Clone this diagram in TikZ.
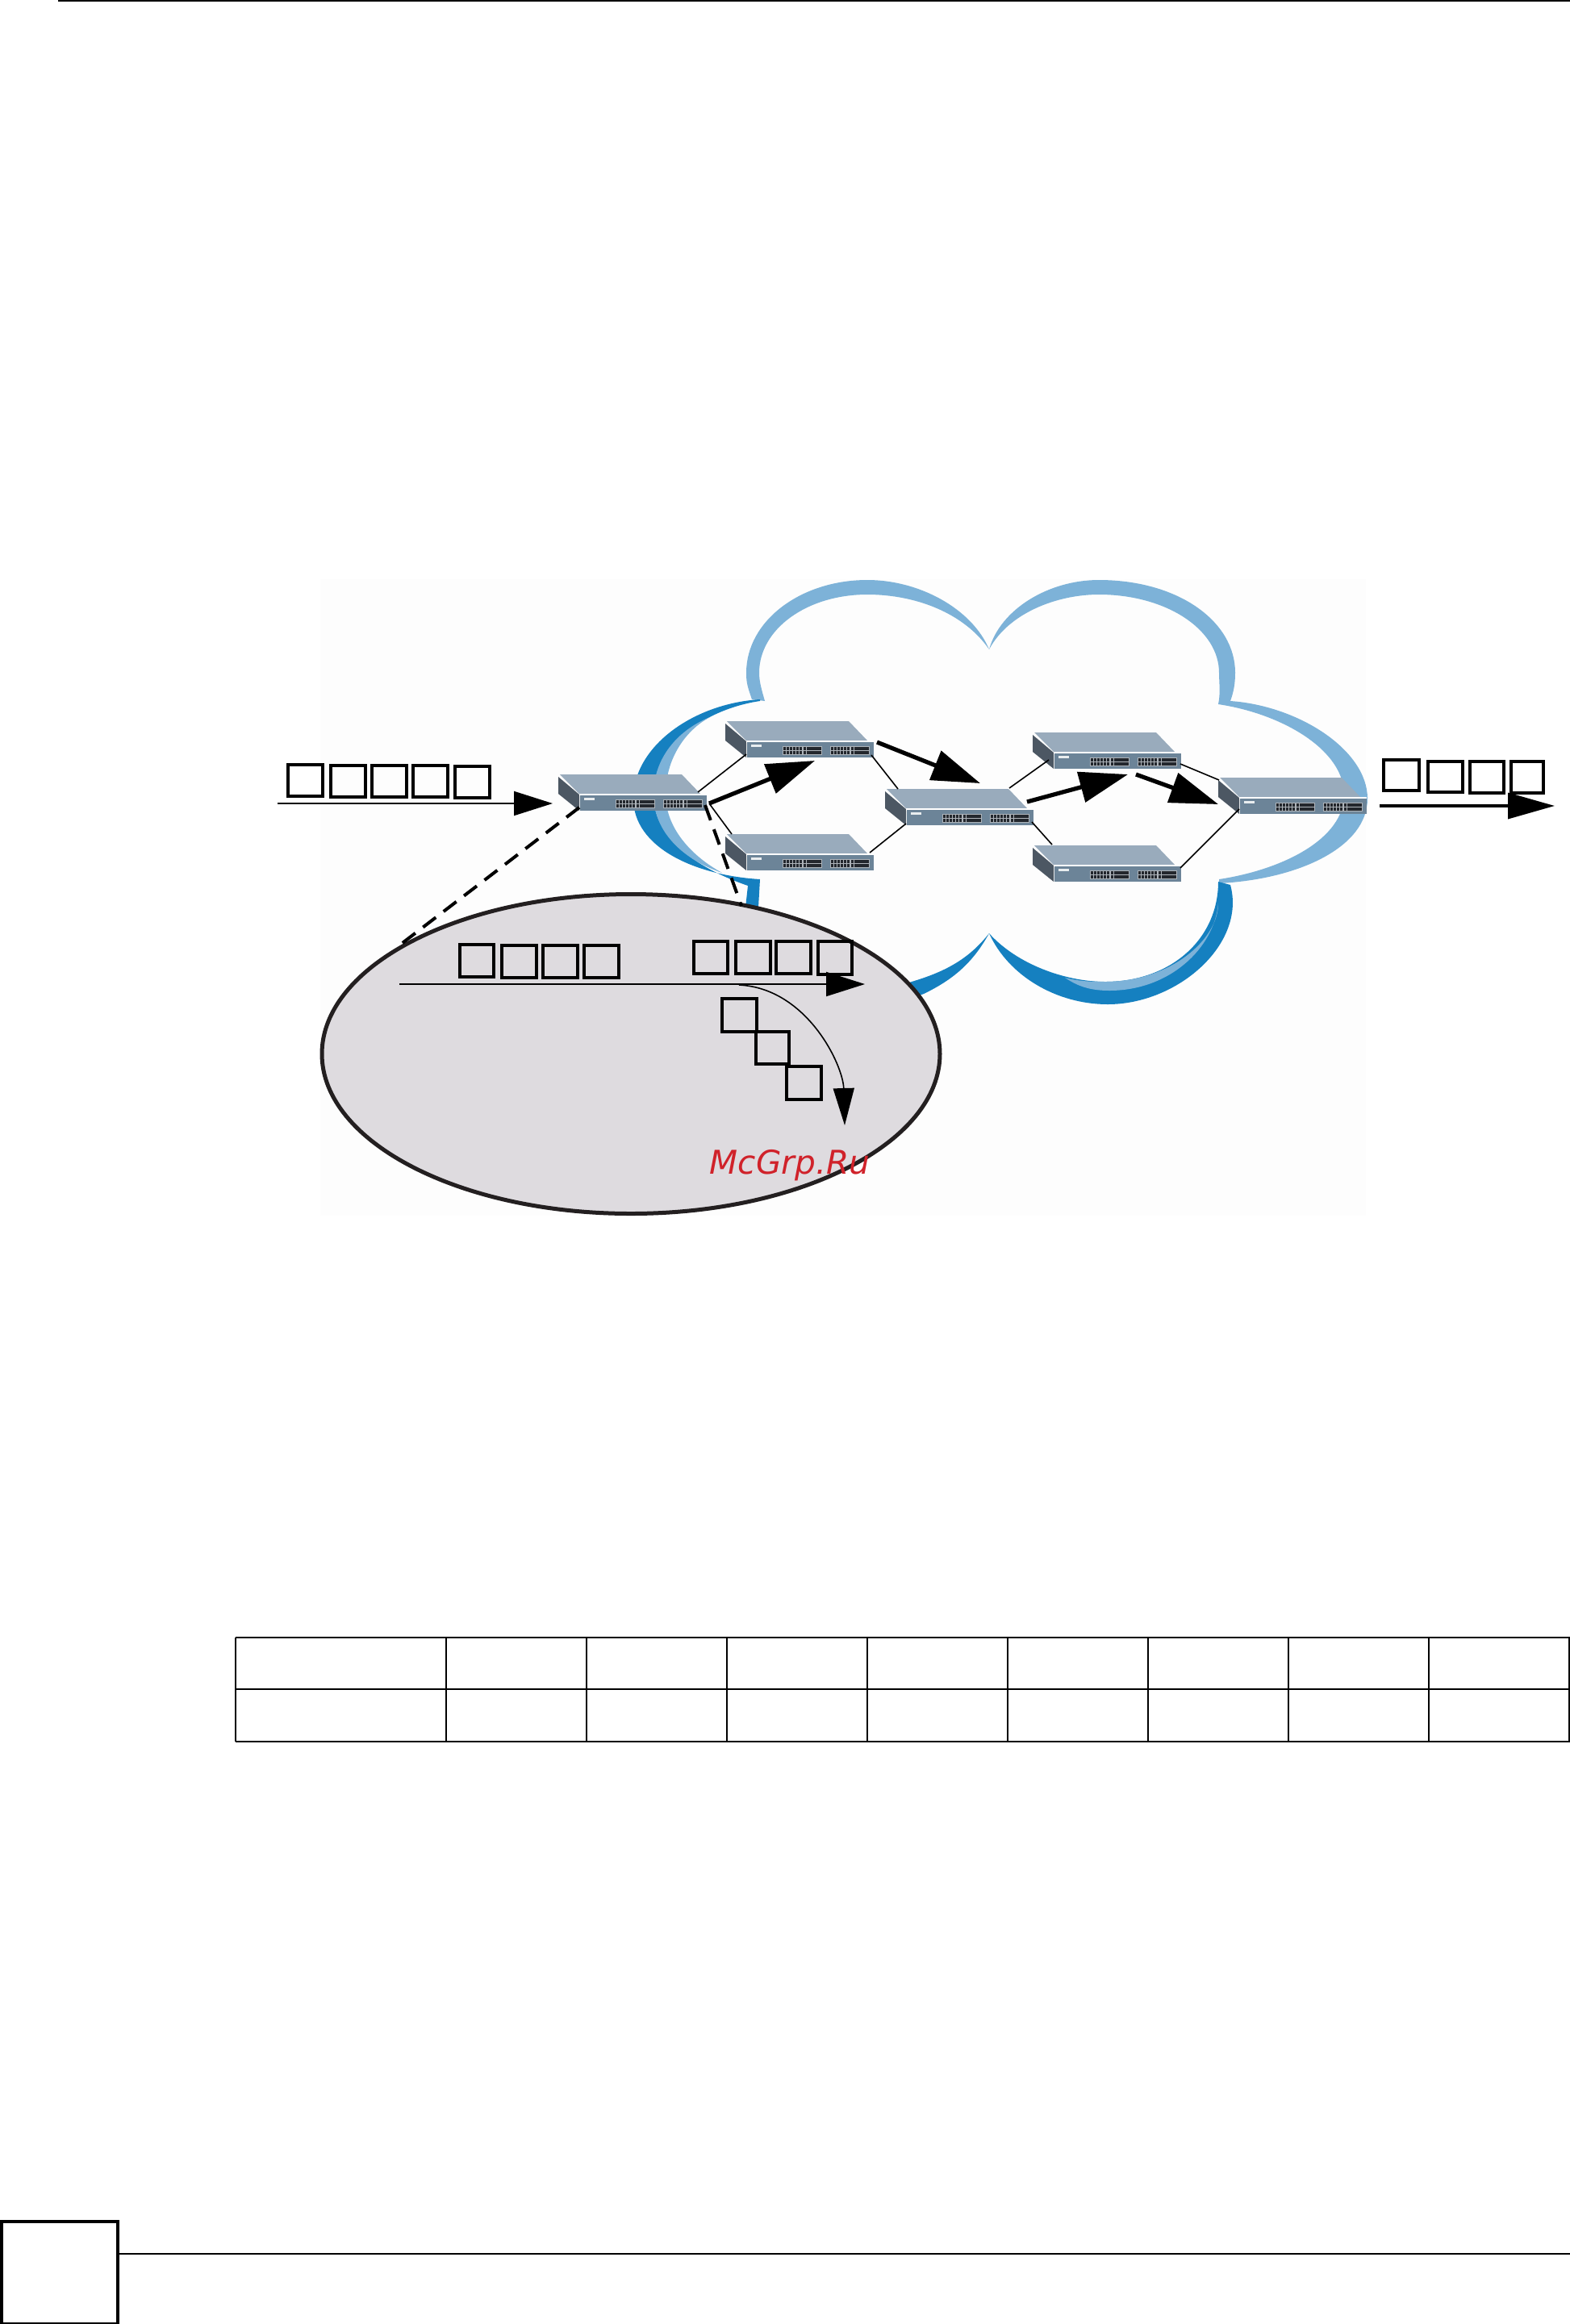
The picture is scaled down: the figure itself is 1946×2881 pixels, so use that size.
\documentclass[tikz,border=0pt]{standalone}
\usepackage{fontspec}
\newfontfamily\wmfont{DejaVu Sans}
\usetikzlibrary{arrows.meta}
\definecolor{cloudL}{HTML}{7DB2D8}
\definecolor{cloudD}{HTML}{1580C0}
\definecolor{swTop}{HTML}{99ABBC}
\definecolor{swSide}{HTML}{4C5763}
\definecolor{swFront}{HTML}{6C8498}
\definecolor{swPort}{HTML}{AEB4BA}
\definecolor{swDot}{HTML}{23272D}
\definecolor{ovalFill}{HTML}{DEDBDF}
\definecolor{ovalEdge}{HTML}{231F20}
\definecolor{wmRed}{HTML}{D0222A}
\definecolor{photoBg}{HTML}{FDFDFD}
\tikzset{
  link/.style={line width=0.8pt,black},
  thick arrow/.style={line width=2.6pt,-{Triangle[length=30pt,width=19pt]}},
  thin arrow/.style={line width=1pt,-{Triangle[length=24pt,width=15pt]}},
  dash link/.style={line width=2pt,dash pattern=on 10pt off 6pt},
  tofu/.style={draw=black,line width=2.2pt,fill=none},
  swbox/.style={minimum width=92pt,minimum height=22.5pt,inner sep=0pt,draw=none,fill=none},
  rule/.style={line width=1pt,black},
  rule thin/.style={line width=0.7pt,black}
}
\newcommand{\netswitch}[3]{%
  \begin{scope}[shift={(#2,#3)}]
    \fill[swTop] (2,0) -- (153,0) -- (176,24) -- (26,24) -- cycle;
    \fill[swSide] (0,3) -- (26,25) -- (26,45) -- (0,24) -- cycle;
    \fill[white] (26,24) rectangle (184,27);
    \fill[swFront] (27,26) rectangle (184,45);
    \fill[white!85!swFront] (32,29) rectangle (45,32);
    \foreach \bx in {71,130}{
      \fill[swPort] (\bx,31) rectangle ++(49,11);
      \foreach \c in {0,...,11}{
        \pgfmathsetmacro{\gx}{\bx+1+\c*3.9+(\c>5?1.2:0)}
        \fill[swDot] (\gx,32) rectangle ++(3.3,3.8);
        \fill[swDot] (\gx,36.8) rectangle ++(3.3,3.8);
      }
    }
    \node[swbox] (#1) at (92,22.5) {};
  \end{scope}%
}
\newcommand{\tofubox}[4]{\draw[tofu] (#1,#2) rectangle (#3,#4);}
\begin{document}
\begin{tikzpicture}[x=0.5pt,y=-0.5pt]
\useasboundingbox (0,0) rectangle (1946,2881);
\fill[white] (0,0) rectangle (1946,2881);
\fill[photoBg] (397,718) rectangle (1693,1507);

% page furniture
\fill[black] (72,0) rectangle (1946,2);
\draw[line width=2pt] (2,2754) rectangle (146,2881);
\draw[rule] (147,2794) -- (1946,2794);

% cloud, light lobes
\fill[cloudL] (932,867) .. controls (926,850) and (925,845) .. (925,834)
  .. controls (925,770) and (992,719) .. (1075,719)
  .. controls (1140,719) and (1205,755) .. (1226,805)
  .. controls (1195,760) and (1135,737) .. (1075,737)
  .. controls (1000,737) and (941,780) .. (941,834)
  .. controls (941,845) and (944,855) .. (948,869) -- cycle;
\fill[cloudL] (1226,805) .. controls (1240,755) and (1300,719) .. (1362,719)
  .. controls (1460,719) and (1531,770) .. (1531,834)
  .. controls (1531,848) and (1529,858) .. (1525,869)
  .. controls (1610,875) and (1695,930) .. (1695,990)
  .. controls (1695,1050) and (1610,1090) .. (1511,1095)
  -- (1511,1090)
  .. controls (1590,1078) and (1666,1040) .. (1666,985)
  .. controls (1666,930) and (1590,885) .. (1510,873)
  .. controls (1513,860) and (1511,845) .. (1511,834)
  .. controls (1511,780) and (1445,737) .. (1362,737)
  .. controls (1310,737) and (1250,760) .. (1226,805) -- cycle;
% cloud, dark lobes
\fill[cloudD] (1510,1093) -- (1525,1097)
  .. controls (1545,1170) and (1460,1245) .. (1373,1245)
  .. controls (1310,1245) and (1250,1210) .. (1226,1157)
  .. controls (1260,1195) and (1320,1217) .. (1370,1217)
  .. controls (1450,1217) and (1510,1165) .. (1510,1093) -- cycle;
\fill[cloudL] (1510,1120) .. controls (1505,1175) and (1450,1228) .. (1375,1228)
  .. controls (1350,1228) and (1335,1222) .. (1320,1212)
  .. controls (1340,1217) and (1355,1217) .. (1370,1217)
  .. controls (1450,1217) and (1510,1165) .. (1510,1120) -- cycle;
\fill[cloudD] (1226,1157) .. controls (1205,1195) and (1180,1215) .. (1145,1232)
  -- (1110,1245) -- (1100,1228) -- (1130,1217)
  .. controls (1170,1205) and (1200,1190) .. (1226,1157) -- cycle;
\fill[cloudD] (942,867) .. controls (860,872) and (785,925) .. (785,990)
  .. controls (785,1050) and (860,1085) .. (942,1090)
  -- (940,1125) -- (924,1125) -- (927,1098)
  .. controls (875,1080) and (810,1045) .. (810,985)
  .. controls (810,920) and (880,878) .. (942,869) -- cycle;
\fill[cloudL] (880,889) .. controls (840,905) and (810,940) .. (810,985)
  .. controls (810,1030) and (845,1065) .. (895,1082)
  .. controls (855,1060) and (825,1025) .. (825,985)
  .. controls (825,940) and (850,905) .. (880,889) -- cycle;

% switches
\netswitch{S1}{692}{960}
\netswitch{S2}{899}{894}
\netswitch{S3}{899}{1034}
\netswitch{S4}{1097}{978}
\netswitch{S5}{1280}{908}
\netswitch{S6}{1280}{1048}
\netswitch{S7}{1510}{964}

% connector ends
\coordinate (S1a) at (865,982);
\coordinate (S1b) at (879,996);
\coordinate (S2l) at (925,935);
\coordinate (S2b) at (1080,936);
\coordinate (S3t) at (907,1034);
\coordinate (S3r) at (1078,1057);
\coordinate (S4t) at (1113,978);
\coordinate (S4l) at (1123,1021);
\coordinate (S4a) at (1251,977);
\coordinate (S4b) at (1279,1019);
\coordinate (S5l) at (1300,942);
\coordinate (S5b) at (1463,947);
\coordinate (S6t) at (1304,1047);
\coordinate (S6r) at (1463,1076);
\coordinate (S7t) at (1511,967);
\coordinate (S7l) at (1536,1003);

\draw[link] (S1a) -- (S2l);
\draw[link] (S1b) -- (S3t);
\draw[link] (S2b) -- (S4t);
\draw[link] (S3r) -- (S4l);
\draw[link] (S4a) -- (S5l);
\draw[link] (S4b) -- (S6t);
\draw[link] (S5b) -- (S7t);
\draw[link] (S6r) -- (S7l);

% thick flow arrows
\coordinate (F1s) at (879,996);   \coordinate (F1e) at (1010,943);
\coordinate (F2s) at (1087,920);  \coordinate (F2e) at (1215,971);
\coordinate (F3s) at (1273,994);  \coordinate (F3e) at (1398,960);
\coordinate (F4s) at (1408,960);  \coordinate (F4e) at (1510,997);
\draw[thick arrow] (F1s) -- (F1e);
\draw[thick arrow] (F2s) -- (F2e);
\draw[thick arrow] (F3s) -- (F3e);
\draw[thick arrow] (F4s) -- (F4e);

% incoming and outgoing
\coordinate (In0) at (344,996); \coordinate (In1) at (685,996);
\draw[thin arrow] (In0) -- (In1);
\coordinate (Out0) at (1710,999); \coordinate (Out1) at (1927,999);
\draw[line width=1.8pt,-{Triangle[length=29pt,width=16pt]}] (Out0) -- (Out1);

\tofubox{357}{948}{400}{987}
\tofubox{410}{949}{453}{988}
\tofubox{461}{949}{504}{988}
\tofubox{512}{949}{555}{988}
\tofubox{564}{950}{607}{989}

\tofubox{1715}{942}{1759}{980}
\tofubox{1770}{944}{1813}{982}
\tofubox{1822}{944}{1864}{983}
\tofubox{1873}{944}{1913}{983}

% zoom ellipse
\draw[fill=ovalFill,draw=ovalEdge,line width=2.5pt] (782,1306.5) ellipse [x radius=383,y radius=198];

% dashed lead lines
\coordinate (D1a) at (718,1001); \coordinate (D1b) at (491,1175);
\coordinate (D2a) at (874,998);  \coordinate (D2b) at (919,1123);
\draw[dash link] (D1a) -- (D1b);
\draw[dash link] (D2a) -- (D2b);

% ellipse contents
\coordinate (E0) at (495,1220); \coordinate (E1) at (1072,1220);
\draw[thin arrow] (E0) -- (E1);
\coordinate (C0) at (916,1221); \coordinate (C1) at (1047,1395);
\draw[line width=0.8pt,-{Triangle[length=23pt,width=13pt]}] (C0) .. controls (1000,1225) and (1045,1320) .. (C1);

\tofubox{570}{1171}{612}{1211}
\tofubox{622}{1172}{665}{1212}
\tofubox{673}{1172}{716}{1212}
\tofubox{724}{1172}{767}{1212}

\tofubox{860}{1167}{902}{1207}
\tofubox{912}{1167}{955}{1207}
\tofubox{962}{1167}{1005}{1207}
\tofubox{1014}{1167}{1056}{1208}

\tofubox{895}{1238}{938}{1279}
\tofubox{937}{1279}{978}{1319}
\tofubox{975}{1322}{1018}{1363}

\node[inner sep=0pt,anchor=center,text=wmRed] (wm) at (979,1445) {\wmfont\itshape\fontsize{20.3pt}{24pt}\selectfont McGrp.Ru};

% table
\foreach \tx in {292,553,727,901,1075,1249,1423,1597,1771,1945}{
  \draw[rule] (\tx,2030) -- (\tx,2159);
}
\draw[rule] (292,2030) -- (1946,2030);
\draw[rule thin] (292,2094) -- (1946,2094);
\draw[rule] (292,2159) -- (1946,2159);
\end{tikzpicture}
\end{document}
